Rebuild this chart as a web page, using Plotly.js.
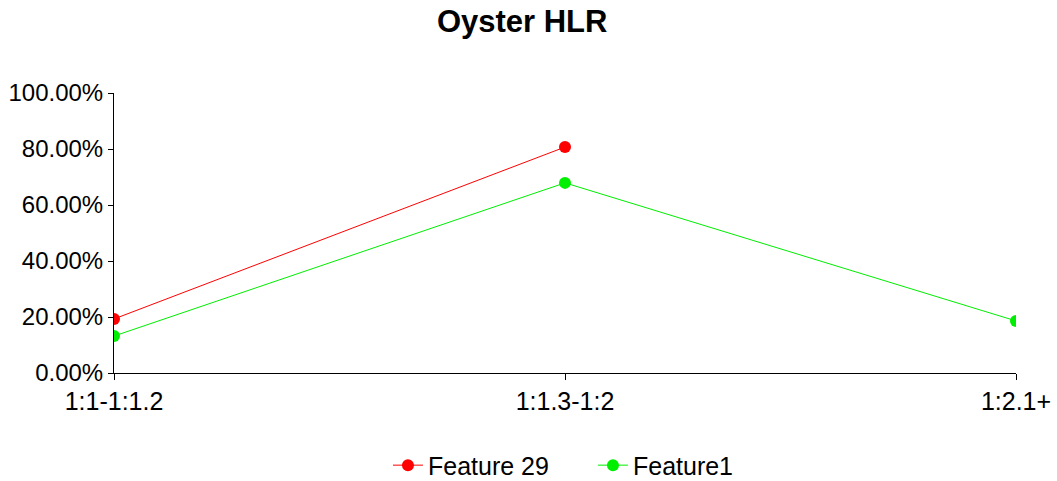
<!DOCTYPE html>
<html>
<head>
<meta charset="utf-8">
<script src="https://cdn.plot.ly/plotly-3.0.1.min.js"></script>
<style>html,body{margin:0;padding:0;background:#fff;}#chart{width:1057px;height:481px;}</style>
</head>
<body>
<div id="chart"></div>
<script>
const categories = ["1:1-1:1.2", "1:1.3-1:2", "1:2.1+"];
const feature29 = [0.193, 0.807, null];
const feature1 = [0.132, 0.679, 0.186];
const seriesNames = ["Feature 29", "Feature1"];

const traces = [
  {x: categories, y: feature29, name: seriesNames[0], type: 'scatter', mode: 'lines+markers',
   line: {color: '#ff0000', width: 1}, marker: {color: '#ff0000', size: 12}},
  {x: categories, y: feature1, name: seriesNames[1], type: 'scatter', mode: 'lines+markers',
   line: {color: '#00ee00', width: 1}, marker: {color: '#00ee00', size: 12}}
];

const layout = {
  width: 1057, height: 481,
  margin: {l: 114, r: 41, t: 93, b: 108, autoexpand: false},
  paper_bgcolor: '#fff', plot_bgcolor: '#fff',
  font: {family: 'Liberation Sans, Arial, sans-serif', size: 24, color: '#000'},
  title: {text: '<b>Oyster HLR</b>', font: {size: 31, color: '#000'}, x: 0.494, xanchor: 'center', y: 0.955, yanchor: 'middle'},
  xaxis: {type: 'category', range: [0, 2], showgrid: false, zeroline: false, showline: true, linecolor: '#000', linewidth: 1,
          ticks: 'outside', ticklen: 6, tickcolor: '#000', tickfont: {size: 25}},
  yaxis: {range: [0, 1], tickformat: '.2%', dtick: 0.2, showgrid: false, zeroline: false, showline: true, linecolor: '#000', linewidth: 1,
          ticks: 'outside', ticklen: 5, tickcolor: '#000', tickfont: {size: 24}, ticklabelstandoff: 0},
  showlegend: true,
  legend: {orientation: 'h', x: 0.531, xanchor: 'center', y: -0.33, yanchor: 'middle', font: {size: 25}, itemwidth: 30, entrywidth: 160}
};

Plotly.newPlot('chart', traces, layout, {displayModeBar: false, staticPlot: true});
</script>
</body>
</html>
